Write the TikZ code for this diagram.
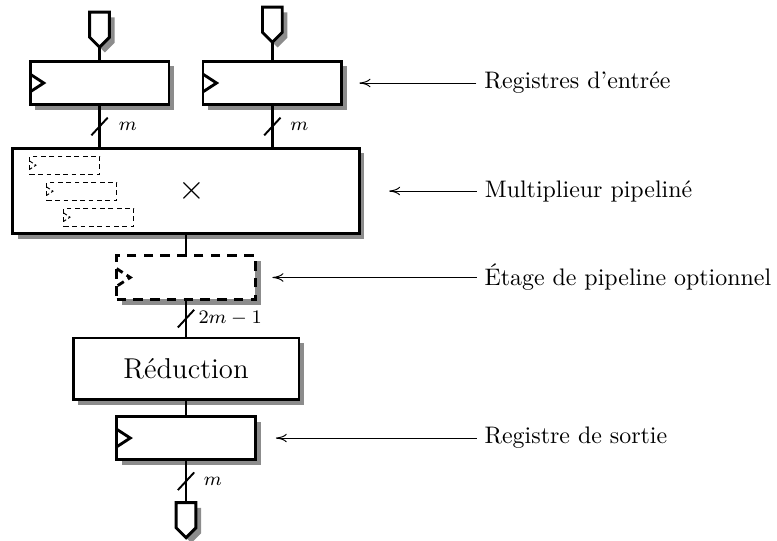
\documentclass[tikz,border=0pt]{standalone}
\usepackage{tikz}
\usetikzlibrary{arrows.meta,positioning,calc,shadows,shapes.symbols}

\begin{document}
\begin{tikzpicture}[
  x=1mm, y=1mm,
  box/.style={draw, line width=1.2pt, fill=white, inner sep=0pt, outer sep=0pt,
    general shadow={fill=black!45, shadow xshift=2.2pt, shadow yshift=-2.2pt}},
  reg/.style={box, minimum width=20.4mm, minimum height=6.4mm,
    path picture={\draw[line width=1.2pt, solid] ([yshift=1.3mm]path picture bounding box.west) -- ++(2mm,-1.3mm) -- ++(-2mm,-1.3mm);}},
  optreg/.style={box, dash pattern=on 4pt off 3pt, minimum width=20.4mm, minimum height=6.4mm,
    path picture={\draw[line width=1.2pt, dash pattern=on 3pt off 2pt] ([yshift=1.3mm]path picture bounding box.west) -- ++(2mm,-1.3mm) -- ++(-2mm,-1.3mm);}},
  stage/.style={draw, thin, dash pattern=on 2pt off 1.5pt, minimum width=10.3mm, minimum height=2.65mm, inner sep=0pt,
    path picture={\draw[thin, dash pattern=on 1.5pt off 1pt] ([yshift=.6mm]path picture bounding box.west) -- ++(.9mm,-.6mm) -- ++(-.9mm,-.6mm);}},
  port/.style={box, shape=signal, signal to=south, minimum width=2.9mm, minimum height=3.7mm},
  bus/.style={line width=1.2pt},
  slash/.style={line width=.8pt},
  buslab/.style={font=\footnotesize},
  note/.style={inner sep=1.1mm},
  pointer/.style={-{To[length=4.6pt,width=3.6pt]}}
]
\useasboundingbox (0,0) rectangle (114.2,-79.4);

% chemin de donnees
\node[box, minimum width=50.9mm, minimum height=12.6mm] (mult) at (27.34,-28.08) {};
\node[reg] (in1) at (14.63,-12.2) {};
\node[reg, right=5mm of in1] (in2) {};
\node[optreg, below=3.2mm of mult] (opt) {};
\node[box, minimum width=33.2mm, minimum height=9mm, font=\large, below=5.7mm of opt] (red) {Réduction};
\node[reg, below=2.5mm of red] (out) {};

\node[port, above=2.06mm of in1] (p1) {};
\node[port, above=2.8mm of in2] (p2) {};
\node[port, below=6.3mm of out] (p3) {};

% etages internes du multiplieur
\foreach \i in {0,1,2}
  \node[stage] (s\i) at ($(mult.north west)+(7.64+2.5*\i,-2.5-3.82*\i)$) {};
\node[font=\Large] (times) at ([xshift=0.9mm]mult.center) {$\times$};

% bus
\draw[bus] (p1) -- (in1);
\draw[bus] (p2) -- (in2);
\draw[bus] (in1) -- coordinate[midway] (t1) (in1 |- mult.north);
\draw[bus] (in2) -- coordinate[midway] (t2) (in2 |- mult.north);
\draw[bus] (mult) -- (opt);
\draw[bus] (opt) -- coordinate[midway] (t3) (red);
\draw[bus] (red) -- (out);
\draw[bus] (out) -- coordinate[midway] (t4) (p3);

\foreach \t in {t1,t2,t3,t4}
  \draw[slash] ([shift={(-1.2,-1.3)}]\t) -- ([shift={(1.2,1.3)}]\t);
\node[buslab, right=1.6mm of t1] (m1) {$m$};
\node[buslab, right=1.4mm of t2] (m2) {$m$};
\node[buslab, right=0.6mm of t3] (m3) {$2m-1$};
\node[buslab, right=1.4mm of t4] (m4) {$m$};

% legendes
\node[note, right=19.8mm of in2] (nin) {Registres d'entrée};
\node[note, right=17.3mm of mult] (nmult) {Multiplieur pipeliné};
\node[note, right=32.5mm of opt] (nopt) {Étage de pipeline optionnel};
\node[note, right=32.5mm of out] (nout) {Registre de sortie};

\draw[pointer, shorten >=2.6mm] (nin) -- (in2);
\draw[pointer, shorten >=4.4mm] (nmult) -- (mult);
\draw[pointer, shorten >=2.5mm] (nopt) -- (opt);
\draw[pointer, shorten >=3mm] (nout) -- (out);
\end{tikzpicture}
\end{document}
